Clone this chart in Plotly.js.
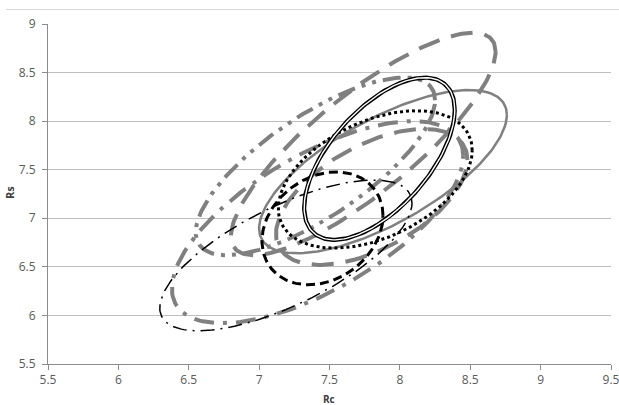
<!DOCTYPE html>
<html>
<head>
<meta charset="utf-8">
<script src="https://cdn.plot.ly/plotly-3.0.1.min.js"></script>
<style>
  html, body { margin: 0; padding: 0; background: #ffffff; }
  #chart { width: 619px; height: 405px; }
</style>
</head>
<body>
<div id="chart"></div>
<script>
// Ellipse parameters (data units): centre, half-extent along each axis,
// and the phase shift (degrees) that sets how tilted / slim each ellipse is.
const ellipseNames = ["E1", "E2", "E3", "E4", "E5", "E6", "E7", "E8", "E9"];
const centerX = [7.74, 7.40, 7.415, 7.80, 7.88, 7.19, 7.45, 7.825, 7.855];
const centerY = [7.765, 7.535, 6.96, 7.22, 7.48, 6.618, 6.896, 7.40, 7.613];
const halfWidth = [0.94, 0.85, 1.035, 0.68, 0.88, 0.896, 0.43, 0.689, 0.535];
const halfHeight = [1.145, 0.915, 1.04, 0.70, 0.84, 0.776, 0.581, 0.707, 0.835];
const phaseDeg = [34, 42, 49, 57, 46, 46, 77, 65, 53];

const xTicks = [5.5, 6, 6.5, 7, 7.5, 8, 8.5, 9, 9.5];
const yTicks = [5.5, 6, 6.5, 7, 7.5, 8, 8.5, 9];

// Line styling for each ellipse, in the same order as above.
const GREY = "#808080";
const styles = [
  { color: GREY, width: 4, dash: "22px,12px" },
  { color: GREY, width: 4, dash: "18px,7px,4px,7px,4px,7px" },
  { color: GREY, width: 4, dash: "20px,9px,4px,9px" },
  { color: GREY, width: 4, dash: "22px,12px" },
  { color: GREY, width: 2.5, dash: "solid" },
  { color: "#000000", width: 1.5, dash: "14px,6px,2px,6px" },
  { color: "#000000", width: 3, dash: "9px,5px" },
  { color: "#000000", width: 3, dash: "dot" },
  { color: "#000000", width: 4.2, dash: "solid", double: true }
];

function ellipsePoints(i) {
  const xs = [], ys = [];
  const ph = phaseDeg[i] * Math.PI / 180;
  for (let k = 0; k <= 360; k += 2) {
    const t = k * Math.PI / 180;
    xs.push(centerX[i] + halfWidth[i] * Math.cos(t));
    ys.push(centerY[i] + halfHeight[i] * Math.cos(t - ph));
  }
  return { xs, ys };
}

const traces = [];
ellipseNames.forEach((name, i) => {
  const p = ellipsePoints(i);
  const s = styles[i];
  traces.push({
    type: "scatter", mode: "lines", name: name,
    x: p.xs, y: p.ys,
    line: { color: s.color, width: s.width, dash: s.dash },
    hoverinfo: "skip"
  });
  if (s.double) {
    // white core turns the thick stroke into a double line
    traces.push({
      type: "scatter", mode: "lines", name: name + " core",
      x: p.xs, y: p.ys,
      line: { color: "#ffffff", width: 1.4 },
      hoverinfo: "skip"
    });
  }
});

const plotL = 48, plotR = 611, plotT = 24, plotB = 364;
const W = 619, H = 405;
const pw = plotR - plotL, ph = plotB - plotT;

const tickFont = { family: "Open Sans, Liberation Sans, sans-serif", size: 12, color: "#595959" };

const layout = {
  width: W, height: H,
  margin: { l: plotL, r: W - plotR, t: plotT, b: H - plotB, pad: 0 },
  paper_bgcolor: "#ffffff", plot_bgcolor: "#ffffff",
  showlegend: false,
  hovermode: false,
  xaxis: {
    range: [5.5, 9.5], tickvals: xTicks, ticktext: xTicks.map(String),
    showgrid: false, zeroline: false,
    showline: true, linecolor: "#8c8c8c", linewidth: 1,
    ticks: "outside", ticklen: 5, tickcolor: "#8c8c8c",
    ticklabeloverflow: "allow",
    tickfont: tickFont, fixedrange: true
  },
  yaxis: {
    range: [5.5, 9], tickvals: yTicks, ticktext: yTicks.map(String),
    showgrid: true, gridcolor: "#bfbfbf", gridwidth: 1, zeroline: false,
    showline: true, linecolor: "#8c8c8c", linewidth: 1,
    ticks: "outside", ticklen: 5, tickcolor: "#8c8c8c",
    ticklabelstandoff: 4, ticklabeloverflow: "allow",
    tickfont: tickFont, fixedrange: true
  },
  shapes: [
    {
      type: "line", xref: "paper", yref: "paper",
      x0: (6 - plotL) / pw, x1: (W - plotL) / pw,
      y0: (plotB - 9.5) / ph, y1: (plotB - 9.5) / ph,
      line: { color: "#d9d9d9", width: 1 }
    }
  ],
  annotations: [
    {
      text: "<b>Rc</b>", showarrow: false,
      xref: "paper", yref: "paper",
      x: (329 - plotL) / pw, xanchor: "center",
      y: (plotB - 391) / ph, yanchor: "top",
      borderpad: 0,
      font: { family: "Open Sans, Liberation Sans, sans-serif", size: 10, color: "#404040" }
    },
    {
      text: "<b>Rs</b>", showarrow: false, textangle: -90,
      xref: "paper", yref: "paper",
      x: (9 - plotL) / pw, xanchor: "center",
      y: (plotB - 193) / ph, yanchor: "middle",
      font: { family: "Open Sans, Liberation Sans, sans-serif", size: 11, color: "#404040" }
    }
  ]
};

Plotly.newPlot("chart", traces, layout, { staticPlot: true, displayModeBar: false });
</script>
</body>
</html>
